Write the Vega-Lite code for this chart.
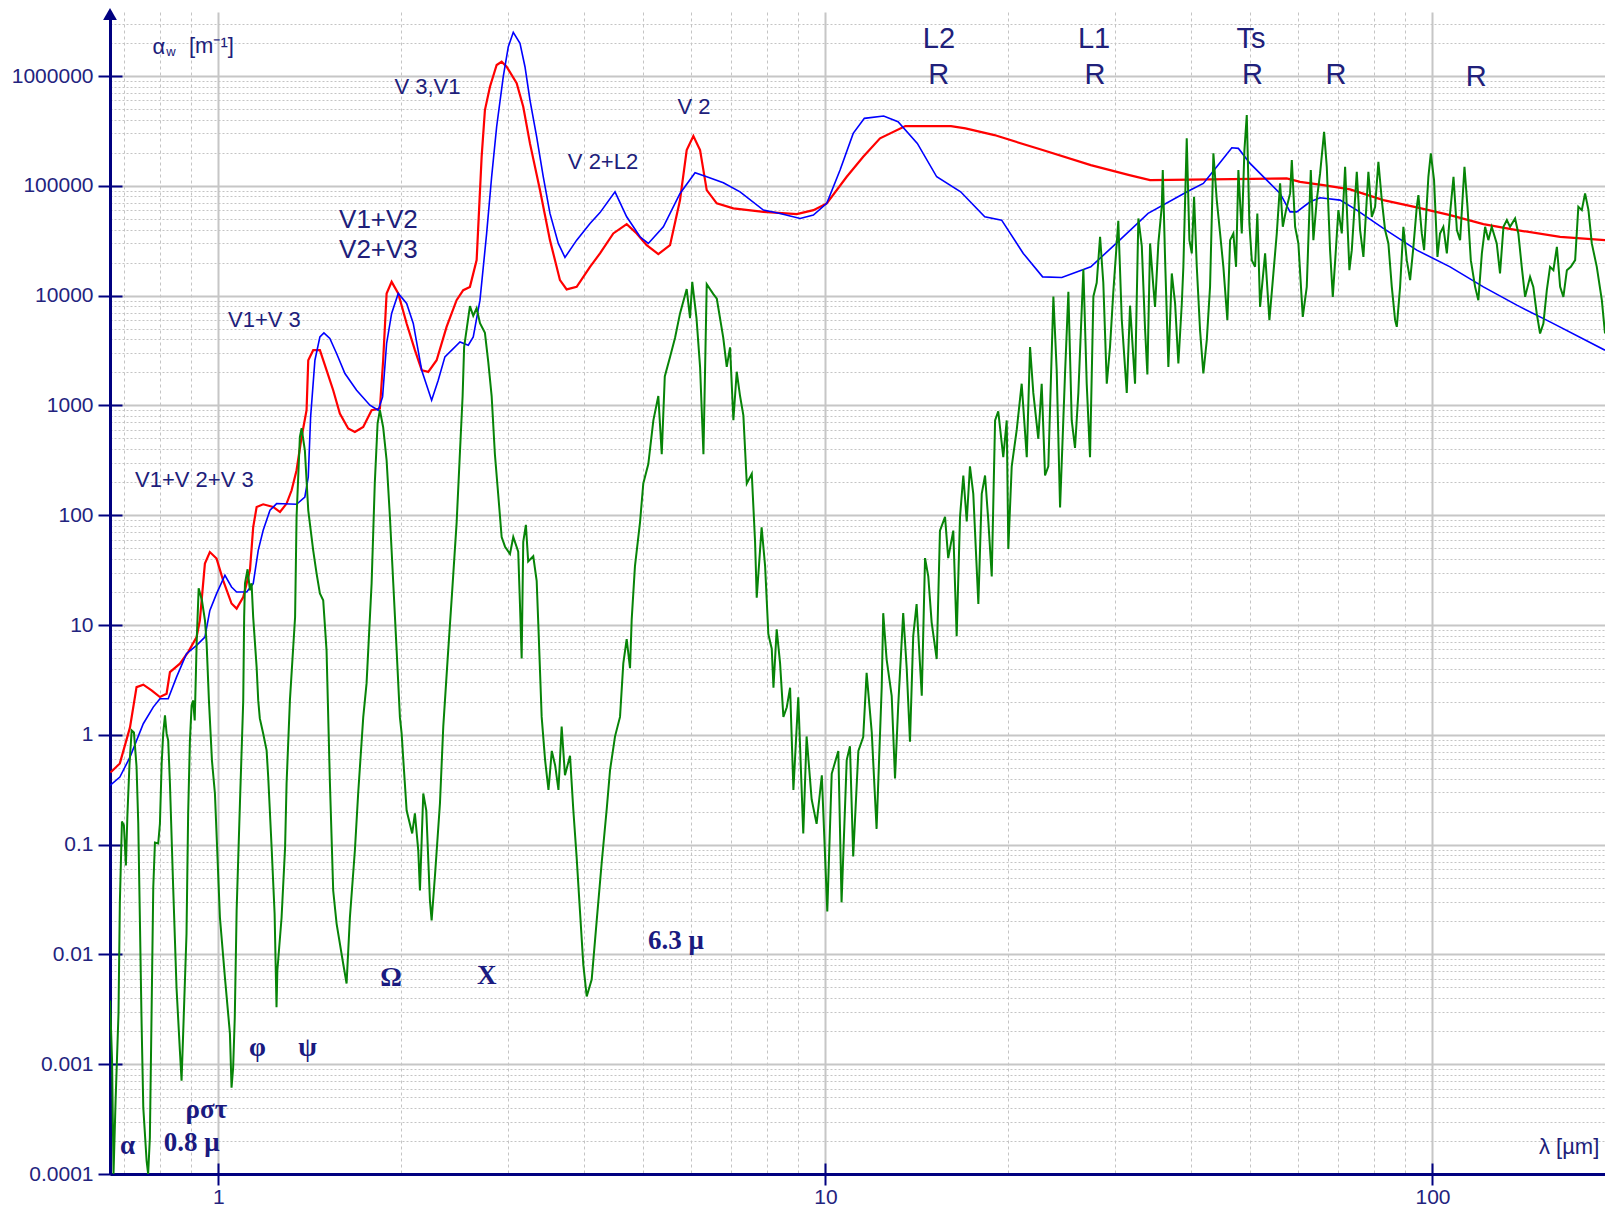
{
"$schema": "https://vega.github.io/schema/vega-lite/v6.json",
"width": 1495, "height": 1162,
"autosize": {"type": "none"},
"padding": {"left": 110, "top": 12, "right": 0, "bottom": 33},
"background": "white",
"config": {"view": {"stroke": null}, "font": "Liberation Sans"},
"datasets": {
"red": [{"lambda":0.664,"alpha":0.454},{"lambda":0.688,"alpha":0.549},{"lambda":0.715,"alpha":1.168},{"lambda":0.733,"alpha":2.72},{"lambda":0.752,"alpha":2.86},{"lambda":0.776,"alpha":2.54},{"lambda":0.801,"alpha":2.21},{"lambda":0.8215,"alpha":2.37},{"lambda":0.832,"alpha":3.73},{"lambda":0.864,"alpha":4.45},{"lambda":0.8915,"alpha":5.67},{"lambda":0.9206,"alpha":7.77},{"lambda":0.932,"alpha":11.03},{"lambda":0.95,"alpha":36.3},{"lambda":0.968,"alpha":46.2},{"lambda":0.993,"alpha":40.3},{"lambda":1.018,"alpha":25.5},{"lambda":1.051,"alpha":15.7},{"lambda":1.0715,"alpha":14.1},{"lambda":1.0987,"alpha":18.0},{"lambda":1.127,"alpha":31.5},{"lambda":1.141,"alpha":78.1},{"lambda":1.156,"alpha":118.9},{"lambda":1.185,"alpha":125.8},{"lambda":1.231,"alpha":118.9},{"lambda":1.263,"alpha":107},{"lambda":1.295,"alpha":127.7},{"lambda":1.32,"alpha":168.8},{"lambda":1.345,"alpha":256.8},{"lambda":1.371,"alpha":516},{"lambda":1.397,"alpha":904},{"lambda":1.406,"alpha":2582},{"lambda":1.4326,"alpha":3186},{"lambda":1.4695,"alpha":3186},{"lambda":1.507,"alpha":2094},{"lambda":1.5455,"alpha":1376},{"lambda":1.585,"alpha":844},{"lambda":1.636,"alpha":616},{"lambda":1.678,"alpha":574},{"lambda":1.732,"alpha":637},{"lambda":1.788,"alpha":904},{"lambda":1.845,"alpha":937},{"lambda":1.868,"alpha":2582},{"lambda":1.8926,"alpha":10470},{"lambda":1.929,"alpha":13360},{"lambda":1.978,"alpha":10470},{"lambda":2.042,"alpha":5578},{"lambda":2.107,"alpha":3186},{"lambda":2.162,"alpha":2094},{"lambda":2.2165,"alpha":2021},{"lambda":2.288,"alpha":2582},{"lambda":2.376,"alpha":5195},{"lambda":2.468,"alpha":9094},{"lambda":2.531,"alpha":11220},{"lambda":2.596,"alpha":12020},{"lambda":2.663,"alpha":21060},{"lambda":2.714,"alpha":184000},{"lambda":2.748,"alpha":490000},{"lambda":2.801,"alpha":799000},{"lambda":2.873,"alpha":1260000},{"lambda":2.928,"alpha":1351000},{"lambda":2.984,"alpha":1216000},{"lambda":3.0996,"alpha":859000},{"lambda":3.178,"alpha":525000},{"lambda":3.26,"alpha":243700},{"lambda":3.386,"alpha":91500},{"lambda":3.517,"alpha":32030},{"lambda":3.653,"alpha":13840},{"lambda":3.747,"alpha":11390},{"lambda":3.892,"alpha":12020},{"lambda":4.094,"alpha":18300},{"lambda":4.252,"alpha":24240},{"lambda":4.472,"alpha":36870},{"lambda":4.705,"alpha":44820},{"lambda":4.887,"alpha":36870},{"lambda":5.076,"alpha":28850},{"lambda":5.305,"alpha":23880},{"lambda":5.546,"alpha":28850},{"lambda":5.76,"alpha":74170},{"lambda":5.908,"alpha":211800},{"lambda":6.059,"alpha":284100},{"lambda":6.215,"alpha":211800},{"lambda":6.374,"alpha":91500},{"lambda":6.621,"alpha":69220},{"lambda":7.052,"alpha":62300},{"lambda":7.902,"alpha":58000},{"lambda":8.969,"alpha":55270},{"lambda":9.553,"alpha":60120},{"lambda":10.05,"alpha":69220},{"lambda":10.84,"alpha":120900},{"lambda":11.54,"alpha":184000},{"lambda":12.3,"alpha":270700},{"lambda":13.54,"alpha":350400},{"lambda":16.1,"alpha":350400},{"lambda":17.01,"alpha":333800},{"lambda":18.98,"alpha":290100},{"lambda":22.79,"alpha":211800},{"lambda":27.36,"alpha":154500},{"lambda":31.67,"alpha":125300},{"lambda":34.26,"alpha":112800},{"lambda":57.54,"alpha":116900},{"lambda":60.52,"alpha":108800},{"lambda":66.11,"alpha":101600},{"lambda":73.16,"alpha":92820},{"lambda":83.01,"alpha":74170},{"lambda":94.22,"alpha":63620},{"lambda":106.9,"alpha":54130},{"lambda":121.3,"alpha":44820},{"lambda":137.7,"alpha":39530},{"lambda":162.3,"alpha":34340},{"lambda":192.4,"alpha":32030}],
"blue": [{"lambda":0.663,"alpha":0.346},{"lambda":0.688,"alpha":0.412},{"lambda":0.715,"alpha":0.626},{"lambda":0.752,"alpha":1.262},{"lambda":0.781,"alpha":1.788},{"lambda":0.801,"alpha":2.133},{"lambda":0.8265,"alpha":2.133},{"lambda":0.853,"alpha":3.356},{"lambda":0.886,"alpha":5.484},{"lambda":0.9206,"alpha":6.53},{"lambda":0.95,"alpha":7.77},{"lambda":0.968,"alpha":13.6},{"lambda":0.993,"alpha":19.3},{"lambda":1.025,"alpha":28.4},{"lambda":1.051,"alpha":22.2},{"lambda":1.0715,"alpha":20.0},{"lambda":1.113,"alpha":20.0},{"lambda":1.141,"alpha":23.8},{"lambda":1.163,"alpha":47.9},{"lambda":1.185,"alpha":72.9},{"lambda":1.216,"alpha":110.9},{"lambda":1.247,"alpha":127.7},{"lambda":1.345,"alpha":125.8},{"lambda":1.388,"alpha":146.6},{"lambda":1.406,"alpha":223.1},{"lambda":1.4186,"alpha":785.6},{"lambda":1.442,"alpha":2582},{"lambda":1.4695,"alpha":4211},{"lambda":1.492,"alpha":4579},{"lambda":1.526,"alpha":4072},{"lambda":1.5655,"alpha":2972},{"lambda":1.616,"alpha":1953},{"lambda":1.689,"alpha":1376},{"lambda":1.7765,"alpha":1004},{"lambda":1.833,"alpha":904},{"lambda":1.864,"alpha":1196},{"lambda":1.8926,"alpha":3667},{"lambda":1.929,"alpha":6882},{"lambda":1.978,"alpha":10470},{"lambda":2.042,"alpha":8487},{"lambda":2.094,"alpha":5578},{"lambda":2.162,"alpha":2094},{"lambda":2.245,"alpha":1116},{"lambda":2.302,"alpha":1697},{"lambda":2.361,"alpha":2768},{"lambda":2.5,"alpha":3792},{"lambda":2.58,"alpha":3538},{"lambda":2.629,"alpha":4211},{"lambda":2.697,"alpha":9094},{"lambda":2.766,"alpha":36870},{"lambda":2.819,"alpha":120900},{"lambda":2.873,"alpha":345300},{"lambda":2.946,"alpha":985800},{"lambda":3.003,"alpha":1851000},{"lambda":3.06,"alpha":2503000},{"lambda":3.139,"alpha":1988000},{"lambda":3.199,"alpha":1216000},{"lambda":3.26,"alpha":604500},{"lambda":3.344,"alpha":279900},{"lambda":3.429,"alpha":120900},{"lambda":3.517,"alpha":56090},{"lambda":3.63,"alpha":29890},{"lambda":3.723,"alpha":22280},{"lambda":3.892,"alpha":32030},{"lambda":4.094,"alpha":45490},{"lambda":4.252,"alpha":57050},{"lambda":4.501,"alpha":88270},{"lambda":4.705,"alpha":52240},{"lambda":4.949,"alpha":34340},{"lambda":5.107,"alpha":29890},{"lambda":5.407,"alpha":42360},{"lambda":5.76,"alpha":85350},{"lambda":6.098,"alpha":131500},{"lambda":6.374,"alpha":120900},{"lambda":6.789,"alpha":106600},{"lambda":7.233,"alpha":88270},{"lambda":7.902,"alpha":60120},{"lambda":8.419,"alpha":56090},{"lambda":9.083,"alpha":50510},{"lambda":9.553,"alpha":54130},{"lambda":10.05,"alpha":69220},{"lambda":10.57,"alpha":139200},{"lambda":11.11,"alpha":300600},{"lambda":11.59,"alpha":411700},{"lambda":12.47,"alpha":432100},{"lambda":13.17,"alpha":383400},{"lambda":14.17,"alpha":243700},{"lambda":15.25,"alpha":120900},{"lambda":16.7,"alpha":88270},{"lambda":18.3,"alpha":52240},{"lambda":19.51,"alpha":48740},{"lambda":21.18,"alpha":24240},{"lambda":22.79,"alpha":14830},{"lambda":24.51,"alpha":14640},{"lambda":27.36,"alpha":18300},{"lambda":30.53,"alpha":32030},{"lambda":34.0,"alpha":56090},{"lambda":39.42,"alpha":88270},{"lambda":41.93,"alpha":105300},{"lambda":44.12,"alpha":149100},{"lambda":46.71,"alpha":222200},{"lambda":47.89,"alpha":219400},{"lambda":50.06,"alpha":160200},{"lambda":53.33,"alpha":112800},{"lambda":56.1,"alpha":85350},{"lambda":58.27,"alpha":58000},{"lambda":59.76,"alpha":58000},{"lambda":62.86,"alpha":71550},{"lambda":65.29,"alpha":77800},{"lambda":70.44,"alpha":74170},{"lambda":75.04,"alpha":60120},{"lambda":83.01,"alpha":40950},{"lambda":94.22,"alpha":25970},{"lambda":106.9,"alpha":18300},{"lambda":121.3,"alpha":12020},{"lambda":137.7,"alpha":8190},{"lambda":156.2,"alpha":5768},{"lambda":192.4,"alpha":3186}],
"green": [{"lambda":0.663,"alpha":0.0038},{"lambda":0.668,"alpha":0.00108},{"lambda":0.6717,"alpha":0.0001},{"lambda":0.677,"alpha":0.000466},{"lambda":0.6845,"alpha":0.00289},{"lambda":0.688,"alpha":0.0291},{"lambda":0.6935,"alpha":0.1625},{"lambda":0.6987,"alpha":0.1494},{"lambda":0.704,"alpha":0.0645},{"lambda":0.708,"alpha":0.1843},{"lambda":0.7135,"alpha":0.526},{"lambda":0.7196,"alpha":1.097},{"lambda":0.7258,"alpha":1.052},{"lambda":0.733,"alpha":0.515},{"lambda":0.7378,"alpha":0.1558},{"lambda":0.7424,"alpha":0.02035},{"lambda":0.7472,"alpha":0.002344},{"lambda":0.752,"alpha":0.000402},{"lambda":0.7615,"alpha":0.000132},{"lambda":0.766,"alpha":0.0001},{"lambda":0.771,"alpha":0.000214},{"lambda":0.776,"alpha":0.00289},{"lambda":0.781,"alpha":0.0407},{"lambda":0.786,"alpha":0.1046},{"lambda":0.7958,"alpha":0.1024},{"lambda":0.801,"alpha":0.1558},{"lambda":0.8063,"alpha":0.549},{"lambda":0.811,"alpha":1.03},{"lambda":0.8165,"alpha":1.503},{"lambda":0.8215,"alpha":1.03},{"lambda":0.8265,"alpha":0.889},{"lambda":0.832,"alpha":0.3607},{"lambda":0.8423,"alpha":0.0407},{"lambda":0.853,"alpha":0.00499},{"lambda":0.864,"alpha":0.00133},{"lambda":0.8695,"alpha":0.000709},{"lambda":0.8748,"alpha":0.0019},{"lambda":0.886,"alpha":0.0155},{"lambda":0.8915,"alpha":0.1922},{"lambda":0.8975,"alpha":0.889},{"lambda":0.9033,"alpha":1.853},{"lambda":0.9083,"alpha":2.058},{"lambda":0.914,"alpha":1.353},{"lambda":0.921,"alpha":7.25},{"lambda":0.9278,"alpha":21.6},{"lambda":0.9393,"alpha":16.8},{"lambda":0.9502,"alpha":11.03},{"lambda":0.9562,"alpha":6.81},{"lambda":0.9646,"alpha":2.058},{"lambda":0.9757,"alpha":0.584},{"lambda":0.9868,"alpha":0.2924},{"lambda":1.0057,"alpha":0.02167},{"lambda":1.025,"alpha":0.00615},{"lambda":1.0446,"alpha":0.0019},{"lambda":1.051,"alpha":0.000612},{"lambda":1.0574,"alpha":0.000931},{"lambda":1.064,"alpha":0.00266},{"lambda":1.0715,"alpha":0.0251},{"lambda":1.085,"alpha":0.237},{"lambda":1.0987,"alpha":2.058},{"lambda":1.1025,"alpha":11.75},{"lambda":1.106,"alpha":24.0},{"lambda":1.117,"alpha":32.2},{"lambda":1.127,"alpha":20.7},{"lambda":1.134,"alpha":24.0},{"lambda":1.141,"alpha":11.75},{"lambda":1.156,"alpha":4.11},{"lambda":1.163,"alpha":2.058},{"lambda":1.17,"alpha":1.411},{"lambda":1.185,"alpha":1.03},{"lambda":1.2005,"alpha":0.7211},{"lambda":1.208,"alpha":0.409},{"lambda":1.2236,"alpha":0.0942},{"lambda":1.2375,"alpha":0.02357},{"lambda":1.2465,"alpha":0.0033},{"lambda":1.2505,"alpha":0.00713},{"lambda":1.2707,"alpha":0.02167},{"lambda":1.2877,"alpha":0.0942},{"lambda":1.295,"alpha":0.3607},{"lambda":1.3115,"alpha":2.058},{"lambda":1.3375,"alpha":11.82},{"lambda":1.345,"alpha":96.4},{"lambda":1.362,"alpha":516},{"lambda":1.371,"alpha":620},{"lambda":1.388,"alpha":390.7},{"lambda":1.406,"alpha":110.9},{"lambda":1.4326,"alpha":47.9},{"lambda":1.451,"alpha":29.6},{"lambda":1.4695,"alpha":19.4},{"lambda":1.488,"alpha":16.8},{"lambda":1.507,"alpha":5.88},{"lambda":1.526,"alpha":0.3842},{"lambda":1.5455,"alpha":0.0382},{"lambda":1.5655,"alpha":0.0191},{"lambda":1.605,"alpha":0.00826},{"lambda":1.626,"alpha":0.00543},{"lambda":1.6466,"alpha":0.02167},{"lambda":1.678,"alpha":0.0884},{"lambda":1.699,"alpha":0.2924},{"lambda":1.732,"alpha":1.441},{"lambda":1.754,"alpha":2.94},{"lambda":1.788,"alpha":24.0},{"lambda":1.8096,"alpha":195.5},{"lambda":1.829,"alpha":688},{"lambda":1.845,"alpha":904},{"lambda":1.868,"alpha":633},{"lambda":1.8926,"alpha":316.8},{"lambda":1.9166,"alpha":95.8},{"lambda":1.941,"alpha":24.0},{"lambda":1.966,"alpha":5.88},{"lambda":1.9907,"alpha":1.441},{"lambda":2.0035,"alpha":1.03},{"lambda":2.0167,"alpha":0.584},{"lambda":2.042,"alpha":0.2046},{"lambda":2.0856,"alpha":0.1263},{"lambda":2.107,"alpha":0.1922},{"lambda":2.134,"alpha":0.0884},{"lambda":2.1477,"alpha":0.0382},{"lambda":2.175,"alpha":0.2924},{"lambda":2.2,"alpha":0.2046},{"lambda":2.2306,"alpha":0.03097},{"lambda":2.245,"alpha":0.0204},{"lambda":2.275,"alpha":0.0546},{"lambda":2.317,"alpha":0.237},{"lambda":2.3465,"alpha":1.193},{"lambda":2.386,"alpha":4.97},{"lambda":2.4275,"alpha":20.7},{"lambda":2.4685,"alpha":86.2},{"lambda":2.4965,"alpha":323.5},{"lambda":2.525,"alpha":1213},{"lambda":2.5395,"alpha":3393},{"lambda":2.596,"alpha":8019},{"lambda":2.629,"alpha":6556},{"lambda":2.663,"alpha":7690},{"lambda":2.697,"alpha":5614},{"lambda":2.748,"alpha":4588},{"lambda":2.7833,"alpha":2486},{"lambda":2.819,"alpha":1218},{"lambda":2.854,"alpha":359},{"lambda":2.889,"alpha":158.5},{"lambda":2.928,"alpha":63.4},{"lambda":2.966,"alpha":51.7},{"lambda":3.022,"alpha":44.4},{"lambda":3.06,"alpha":63.4},{"lambda":3.118,"alpha":46.6},{"lambda":3.139,"alpha":15.2},{"lambda":3.159,"alpha":4.97},{"lambda":3.178,"alpha":57.3},{"lambda":3.21,"alpha":81.8},{"lambda":3.238,"alpha":38.0},{"lambda":3.301,"alpha":42.3},{"lambda":3.344,"alpha":25.3},{"lambda":3.365,"alpha":10.14},{"lambda":3.408,"alpha":1.456},{"lambda":3.453,"alpha":0.584},{"lambda":3.497,"alpha":0.3154},{"lambda":3.5415,"alpha":0.7134},{"lambda":3.587,"alpha":0.526},{"lambda":3.632,"alpha":0.3154},{"lambda":3.6765,"alpha":1.188},{"lambda":3.723,"alpha":0.4284},{"lambda":3.795,"alpha":0.645},{"lambda":3.842,"alpha":0.2099},{"lambda":3.892,"alpha":0.0757},{"lambda":3.941,"alpha":0.0247},{"lambda":3.9915,"alpha":0.00803},{"lambda":4.043,"alpha":0.00414},{"lambda":4.12,"alpha":0.00591},{"lambda":4.1985,"alpha":0.0201},{"lambda":4.2795,"alpha":0.0684},{"lambda":4.3615,"alpha":0.2099},{"lambda":4.4166,"alpha":0.4748},{"lambda":4.5015,"alpha":0.969},{"lambda":4.5874,"alpha":1.456},{"lambda":4.645,"alpha":4.474},{"lambda":4.705,"alpha":7.45},{"lambda":4.765,"alpha":4.04},{"lambda":4.795,"alpha":11.2},{"lambda":4.855,"alpha":34.4},{"lambda":4.949,"alpha":86.1},{"lambda":5.011,"alpha":194.6},{"lambda":5.107,"alpha":292.5},{"lambda":5.206,"alpha":731.6},{"lambda":5.305,"alpha":1218},{"lambda":5.374,"alpha":359},{"lambda":5.4365,"alpha":1834},{"lambda":5.546,"alpha":2756},{"lambda":5.6525,"alpha":4141},{"lambda":5.76,"alpha":6896},{"lambda":5.908,"alpha":11480},{"lambda":5.983,"alpha":6234},{"lambda":6.0335,"alpha":13380},{"lambda":6.1315,"alpha":6234},{"lambda":6.215,"alpha":2248},{"lambda":6.295,"alpha":359},{"lambda":6.374,"alpha":12730},{"lambda":6.5325,"alpha":10380},{"lambda":6.6225,"alpha":9367},{"lambda":6.786,"alpha":4141},{"lambda":6.877,"alpha":2248},{"lambda":6.964,"alpha":3379},{"lambda":7.052,"alpha":733},{"lambda":7.142,"alpha":2029},{"lambda":7.233,"alpha":1218},{"lambda":7.3245,"alpha":811},{"lambda":7.42,"alpha":194.6},{"lambda":7.562,"alpha":238.6},{"lambda":7.657,"alpha":57.3},{"lambda":7.705,"alpha":17.7},{"lambda":7.85,"alpha":77.6},{"lambda":7.954,"alpha":34.4},{"lambda":8.053,"alpha":8.24},{"lambda":8.157,"alpha":6.08},{"lambda":8.21,"alpha":2.687},{"lambda":8.3115,"alpha":9.13},{"lambda":8.419,"alpha":4.474},{"lambda":8.525,"alpha":1.456},{"lambda":8.636,"alpha":1.784},{"lambda":8.7445,"alpha":2.687},{"lambda":8.855,"alpha":0.3154},{"lambda":9.02,"alpha":2.192},{"lambda":9.193,"alpha":0.1263},{"lambda":9.31,"alpha":0.967},{"lambda":9.49,"alpha":0.2578},{"lambda":9.67,"alpha":0.1545},{"lambda":9.863,"alpha":0.4284},{"lambda":10.07,"alpha":0.0246},{"lambda":10.24,"alpha":0.4412},{"lambda":10.5,"alpha":0.7134},{"lambda":10.63,"alpha":0.0298},{"lambda":10.84,"alpha":0.589},{"lambda":10.974,"alpha":0.7855},{"lambda":11.11,"alpha":0.078},{"lambda":11.33,"alpha":0.7134},{"lambda":11.54,"alpha":0.953},{"lambda":11.69,"alpha":3.665},{"lambda":11.92,"alpha":1.052},{"lambda":12.14,"alpha":0.139},{"lambda":12.38,"alpha":2.75},{"lambda":12.45,"alpha":12.83},{"lambda":12.61,"alpha":4.897},{"lambda":12.856,"alpha":2.267},{"lambda":13.02,"alpha":0.4006},{"lambda":13.18,"alpha":1.869},{"lambda":13.43,"alpha":12.83},{"lambda":13.61,"alpha":4.04},{"lambda":13.78,"alpha":0.865},{"lambda":13.95,"alpha":7.915},{"lambda":14.13,"alpha":15.53},{"lambda":14.41,"alpha":2.267},{"lambda":14.59,"alpha":40.68},{"lambda":14.77,"alpha":27.71},{"lambda":14.96,"alpha":10.58},{"lambda":15.25,"alpha":4.897},{"lambda":15.44,"alpha":72.44},{"lambda":15.74,"alpha":96.8},{"lambda":15.93,"alpha":40.68},{"lambda":16.24,"alpha":72.44},{"lambda":16.45,"alpha":7.915},{"lambda":16.66,"alpha":96.8},{"lambda":16.87,"alpha":230.2},{"lambda":17.09,"alpha":87.9},{"lambda":17.3,"alpha":279.3},{"lambda":17.52,"alpha":156.5},{"lambda":17.86,"alpha":15.53},{"lambda":18.09,"alpha":156.5},{"lambda":18.32,"alpha":230.2},{"lambda":18.55,"alpha":87.9},{"lambda":18.79,"alpha":27.71},{"lambda":19.03,"alpha":730},{"lambda":19.26,"alpha":885},{"lambda":19.63,"alpha":338},{"lambda":19.89,"alpha":730},{"lambda":20.01,"alpha":49.35},{"lambda":20.27,"alpha":279.3},{"lambda":20.66,"alpha":602},{"lambda":21.05,"alpha":1577},{"lambda":21.46,"alpha":338},{"lambda":21.73,"alpha":3407},{"lambda":22.0,"alpha":1300},{"lambda":22.42,"alpha":497},{"lambda":22.71,"alpha":1577},{"lambda":23.0,"alpha":230.2},{"lambda":23.29,"alpha":279.3},{"lambda":23.74,"alpha":9828},{"lambda":24.04,"alpha":2107},{"lambda":24.35,"alpha":117.4},{"lambda":24.81,"alpha":1912},{"lambda":25.13,"alpha":10820},{"lambda":25.45,"alpha":730},{"lambda":25.77,"alpha":410},{"lambda":26.1,"alpha":1300},{"lambda":26.6,"alpha":17510},{"lambda":26.94,"alpha":1577},{"lambda":27.28,"alpha":338},{"lambda":27.63,"alpha":9828},{"lambda":27.98,"alpha":13110},{"lambda":28.34,"alpha":34340},{"lambda":28.69,"alpha":13110},{"lambda":29.07,"alpha":1577},{"lambda":29.43,"alpha":3407},{"lambda":29.8,"alpha":10820},{"lambda":30.37,"alpha":48130},{"lambda":30.77,"alpha":6067},{"lambda":31.36,"alpha":1300},{"lambda":31.75,"alpha":8104},{"lambda":32.36,"alpha":1577},{"lambda":32.77,"alpha":50510},{"lambda":33.2,"alpha":28300},{"lambda":33.61,"alpha":5012},{"lambda":33.91,"alpha":1912},{"lambda":34.26,"alpha":29890},{"lambda":34.69,"alpha":12020},{"lambda":34.91,"alpha":7902},{"lambda":35.35,"alpha":29890},{"lambda":35.81,"alpha":64440},{"lambda":35.95,"alpha":139200},{"lambda":36.27,"alpha":21060},{"lambda":36.72,"alpha":2244},{"lambda":37.2,"alpha":15930},{"lambda":37.67,"alpha":8487},{"lambda":38.14,"alpha":2410},{"lambda":38.64,"alpha":8487},{"lambda":38.87,"alpha":18300},{"lambda":39.37,"alpha":270700},{"lambda":39.77,"alpha":32030},{"lambda":40.13,"alpha":24240},{"lambda":40.48,"alpha":79480},{"lambda":40.9,"alpha":18300},{"lambda":41.41,"alpha":4846},{"lambda":41.93,"alpha":1953},{"lambda":42.48,"alpha":3929},{"lambda":43.01,"alpha":12020},{"lambda":43.56,"alpha":197600},{"lambda":44.12,"alpha":74170},{"lambda":44.68,"alpha":36870},{"lambda":45.24,"alpha":18300},{"lambda":45.93,"alpha":5976},{"lambda":46.41,"alpha":32030},{"lambda":46.99,"alpha":36870},{"lambda":47.47,"alpha":18300},{"lambda":47.89,"alpha":139200},{"lambda":48.51,"alpha":36870},{"lambda":49.0,"alpha":211800},{"lambda":49.44,"alpha":441300},{"lambda":49.93,"alpha":45490},{"lambda":50.39,"alpha":21060},{"lambda":51.02,"alpha":18300},{"lambda":51.46,"alpha":56090},{"lambda":52.0,"alpha":7902},{"lambda":53.0,"alpha":24240},{"lambda":53.87,"alpha":5976},{"lambda":54.69,"alpha":15930},{"lambda":55.4,"alpha":36870},{"lambda":56.1,"alpha":105300},{"lambda":56.68,"alpha":42360},{"lambda":57.38,"alpha":60120},{"lambda":58.27,"alpha":85350},{"lambda":58.65,"alpha":171700},{"lambda":59.39,"alpha":42360},{"lambda":60.13,"alpha":29890},{"lambda":61.14,"alpha":6407},{"lambda":62.07,"alpha":12020},{"lambda":63.03,"alpha":139200},{"lambda":63.65,"alpha":32030},{"lambda":64.47,"alpha":74170},{"lambda":65.29,"alpha":129900},{"lambda":66.29,"alpha":310800},{"lambda":66.97,"alpha":149100},{"lambda":67.81,"alpha":25970},{"lambda":68.51,"alpha":9747},{"lambda":69.2,"alpha":22560},{"lambda":69.98,"alpha":60120},{"lambda":70.89,"alpha":36870},{"lambda":71.79,"alpha":149100},{"lambda":72.97,"alpha":17070},{"lambda":73.63,"alpha":25970},{"lambda":75.04,"alpha":134300},{"lambda":75.99,"alpha":39530},{"lambda":76.95,"alpha":22560},{"lambda":78.42,"alpha":134300},{"lambda":79.44,"alpha":52240},{"lambda":80.44,"alpha":64440},{"lambda":81.45,"alpha":165700},{"lambda":82.51,"alpha":74170},{"lambda":83.55,"alpha":39530},{"lambda":84.6,"alpha":29890},{"lambda":85.7,"alpha":12020},{"lambda":86.78,"alpha":5976},{"lambda":87.34,"alpha":5195},{"lambda":88.44,"alpha":12020},{"lambda":89.55,"alpha":42360},{"lambda":90.71,"alpha":21060},{"lambda":91.86,"alpha":13840},{"lambda":93.02,"alpha":27830},{"lambda":94.22,"alpha":64440},{"lambda":94.8,"alpha":82370},{"lambda":96.03,"alpha":36870},{"lambda":96.87,"alpha":25970},{"lambda":98.46,"alpha":120900},{"lambda":99.37,"alpha":197600},{"lambda":100.6,"alpha":112800},{"lambda":101.9,"alpha":22560},{"lambda":102.9,"alpha":36870},{"lambda":104.2,"alpha":42360},{"lambda":105.6,"alpha":24240},{"lambda":106.9,"alpha":56090},{"lambda":108.3,"alpha":120900},{"lambda":109.7,"alpha":39530},{"lambda":111.05,"alpha":32030},{"lambda":112.9,"alpha":149100},{"lambda":114.2,"alpha":64440},{"lambda":115.65,"alpha":21060},{"lambda":117.55,"alpha":12020},{"lambda":119.0,"alpha":9094},{"lambda":120.6,"alpha":24240},{"lambda":122.1,"alpha":42360},{"lambda":123.6,"alpha":32030},{"lambda":125.2,"alpha":42360},{"lambda":127.6,"alpha":29890},{"lambda":129.2,"alpha":15930},{"lambda":130.9,"alpha":42360},{"lambda":132.6,"alpha":48740},{"lambda":134.2,"alpha":42360},{"lambda":136.8,"alpha":50510},{"lambda":138.5,"alpha":36870},{"lambda":140.3,"alpha":18300},{"lambda":142.1,"alpha":9747},{"lambda":144.8,"alpha":14830},{"lambda":146.6,"alpha":12020},{"lambda":148.5,"alpha":6882},{"lambda":150.4,"alpha":4521},{"lambda":152.3,"alpha":5578},{"lambda":154.3,"alpha":11220},{"lambda":156.2,"alpha":18300},{"lambda":158.2,"alpha":17070},{"lambda":160.3,"alpha":27830},{"lambda":162.3,"alpha":12020},{"lambda":164.3,"alpha":9747},{"lambda":166.5,"alpha":17070},{"lambda":169.0,"alpha":18300},{"lambda":171.8,"alpha":21060},{"lambda":173.9,"alpha":64440},{"lambda":176.2,"alpha":60120},{"lambda":178.4,"alpha":85350},{"lambda":180.7,"alpha":60120},{"lambda":183.0,"alpha":29890},{"lambda":186.5,"alpha":18300},{"lambda":190.1,"alpha":9094},{"lambda":192.4,"alpha":4521}],
"arrow": [{"lambda":0.6628,"alpha":3674000}],
"lab22": [{"text":"V 3,V1","lambda":2.21,"alpha":802500},{"text":"V 2","lambda":6.075,"alpha":527700},{"text":"V 2+L2","lambda":4.301,"alpha":164600},{"text":"V1+V 3","lambda":1.1905,"alpha":6040},{"text":"V1+V 2+V 3","lambda":0.9129,"alpha":210.4}],
"lab26": [{"text":"V1+V2","lambda":1.8348,"alpha":48740},{"text":"V2+V3","lambda":1.8348,"alpha":25970}],
"lab29": [{"text":"L2","lambda":15.38,"alpha":2198000},{"text":"R","lambda":15.36,"alpha":1032500},{"text":"L1","lambda":27.7,"alpha":2198000},{"text":"R","lambda":27.8,"alpha":1032500},{"text":"Ts","lambda":50.25,"alpha":2198000},{"text":"R","lambda":50.54,"alpha":1032500},{"text":"R","lambda":69.37,"alpha":1032500},{"text":"R","lambda":118.0,"alpha":979500}],
"lab20": [{"text":"α","lambda":0.7978,"alpha":1839000},{"text":"[m⁻¹]","lambda":0.9738,"alpha":1877000},{"text":"λ [µm]","lambda":167.9,"alpha":0.0001774}],
"lab13": [{"text":"w","lambda":0.835,"alpha":1655000}],
"serif": [{"text":"Ω","lambda":1.924,"alpha":0.00609},{"text":"X","lambda":2.766,"alpha":0.00632},{"text":"6.3 μ","lambda":5.673,"alpha":0.01337},{"text":"φ","lambda":1.1595,"alpha":0.001401},{"text":"ψ","lambda":1.4016,"alpha":0.001401},{"text":"ρστ","lambda":0.9554,"alpha":0.0003858},{"text":"0.8 μ","lambda":0.9033,"alpha":0.000191},{"text":"α","lambda":0.7082,"alpha":0.0001793}]
},
"resolve": {"axis": {"x": "independent", "y": "independent"}},
"layer": [
{"data": {"name": "red"},
 "mark": {"type": "line", "color": "#ff0000", "strokeWidth": 2.2, "clip": true},
 "encoding": {
  "x": {"field": "lambda", "type": "quantitative", "scale": {"type": "log", "domain": [0.6628, 192.4], "nice": false},
   "axis": {"orient": "bottom", "title": null, "values": [0.7,0.8,0.9,1,2,3,4,5,6,7,8,9,10,20,30,40,50,60,70,80,90,100],
    "format": "~g", "labelExpr": "abs(log(datum.value)/LN10 - round(log(datum.value)/LN10)) < 0.001 ? datum.label : ''",
    "labelFont": "Liberation Sans", "labelFontSize": 21, "labelColor": "#23237e", "labelPadding": 1, "labelOverlap": false, "labelFlush": false,
    "domainColor": "#000080", "domainWidth": 3, "tickColor": "#000080", "tickWidth": 2, "tickSize": 11,
    "tickOpacity": {"condition": {"test": "abs(log(datum.value)/LN10 - round(log(datum.value)/LN10)) < 0.001", "value": 1}, "value": 0},
    "grid": true,
    "gridColor": {"condition": {"test": "abs(log(datum.value)/LN10 - round(log(datum.value)/LN10)) < 0.001", "value": "#c6c6c6"}, "value": "#c4c4c4"},
    "gridWidth": {"condition": {"test": "abs(log(datum.value)/LN10 - round(log(datum.value)/LN10)) < 0.001", "value": 2}, "value": 1},
    "gridDash": {"condition": {"test": "abs(log(datum.value)/LN10 - round(log(datum.value)/LN10)) < 0.001", "value": []}, "value": [3, 3]}}},
  "y": {"field": "alpha", "type": "quantitative", "scale": {"type": "log", "domain": [0.0001, 3832000], "nice": false},
   "axis": {"orient": "left", "title": null,
    "values": [0.0001,0.0002,0.0003,0.0004,0.0005,0.0006,0.0007,0.0008,0.0009,0.001,0.002,0.003,0.004,0.005,0.006,0.007,0.008,0.009,0.01,0.02,0.03,0.04,0.05,0.06,0.07,0.08,0.09,0.1,0.2,0.3,0.4,0.5,0.6,0.7,0.8,0.9,1,2,3,4,5,6,7,8,9,10,20,30,40,50,60,70,80,90,100,200,300,400,500,600,700,800,900,1000,2000,3000,4000,5000,6000,7000,8000,9000,10000,20000,30000,40000,50000,60000,70000,80000,90000,100000,200000,300000,400000,500000,600000,700000,800000,900000,1000000,2000000,3000000],
    "format": "~f", "labelExpr": "abs(log(datum.value)/LN10 - round(log(datum.value)/LN10)) < 0.001 ? datum.label : ''",
    "labelFont": "Liberation Sans", "labelFontSize": 21, "labelColor": "#23237e", "labelPadding": 5, "labelOverlap": false, "labelFlush": false,
    "domainColor": "#000080", "domainWidth": 3, "tickColor": "#000080", "tickWidth": 2, "tickSize": 12,
    "tickOpacity": {"condition": {"test": "abs(log(datum.value)/LN10 - round(log(datum.value)/LN10)) < 0.001", "value": 1}, "value": 0},
    "grid": true,
    "gridColor": {"condition": {"test": "abs(log(datum.value)/LN10 - round(log(datum.value)/LN10)) < 0.001", "value": "#c6c6c6"}, "value": "#c4c4c4"},
    "gridWidth": {"condition": {"test": "abs(log(datum.value)/LN10 - round(log(datum.value)/LN10)) < 0.001", "value": 2}, "value": 1},
    "gridDash": {"condition": {"test": "abs(log(datum.value)/LN10 - round(log(datum.value)/LN10)) < 0.001", "value": []}, "value": [2, 2]}}}
 }},
{"data": {"name": "blue"},
 "mark": {"type": "line", "color": "#0000ff", "strokeWidth": 1.6, "clip": true},
 "encoding": {
  "x": {"field": "lambda", "type": "quantitative", "scale": {"type": "log", "domain": [0.6628, 192.4], "nice": false},
   "axis": {"orient": "bottom", "offset": -11, "title": null, "values": [1, 10, 100], "labels": false, "domain": false, "grid": false, "ticks": true, "tickSize": 11, "tickColor": "#000080", "tickWidth": 2}},
  "y": {"field": "alpha", "type": "quantitative", "scale": {"type": "log", "domain": [0.0001, 3832000], "nice": false},
   "axis": {"orient": "left", "offset": -12, "title": null, "values": [0.0001,0.001,0.01,0.1,1,10,100,1000,10000,100000,1000000], "labels": false, "domain": false, "grid": false, "ticks": true, "tickSize": 12, "tickColor": "#000080", "tickWidth": 2}}
 }},
{"data": {"name": "green"},
 "mark": {"type": "line", "color": "#078407", "strokeWidth": 2, "clip": true},
 "encoding": {
  "x": {"field": "lambda", "type": "quantitative", "scale": {"type": "log", "domain": [0.6628, 192.4], "nice": false}, "axis": null},
  "y": {"field": "alpha", "type": "quantitative", "scale": {"type": "log", "domain": [0.0001, 3832000], "nice": false}, "axis": null}
 }},
{"data": {"name": "arrow"},
 "mark": {"type": "point", "shape": "triangle-up", "filled": true, "color": "#000080", "size": 190, "opacity": 1},
 "encoding": {
  "x": {"field": "lambda", "type": "quantitative", "axis": null},
  "y": {"field": "alpha", "type": "quantitative", "axis": null}
 }},
{"data": {"name": "lab22"},
 "mark": {"type": "text", "font": "Liberation Sans", "fontSize": 22, "color": "#20207a", "align": "center", "baseline": "middle"},
 "encoding": {"x": {"field": "lambda", "type": "quantitative", "axis": null}, "y": {"field": "alpha", "type": "quantitative", "axis": null}, "text": {"field": "text"}}},
{"data": {"name": "lab26"},
 "mark": {"type": "text", "font": "Liberation Sans", "fontSize": 26, "color": "#20207a", "align": "center", "baseline": "middle"},
 "encoding": {"x": {"field": "lambda", "type": "quantitative", "axis": null}, "y": {"field": "alpha", "type": "quantitative", "axis": null}, "text": {"field": "text"}}},
{"data": {"name": "lab29"},
 "mark": {"type": "text", "font": "Liberation Sans", "fontSize": 29, "color": "#20207a", "align": "center", "baseline": "middle"},
 "encoding": {"x": {"field": "lambda", "type": "quantitative", "axis": null}, "y": {"field": "alpha", "type": "quantitative", "axis": null}, "text": {"field": "text"}}},
{"data": {"name": "lab20"},
 "mark": {"type": "text", "font": "Liberation Sans", "fontSize": 22, "color": "#20207a", "align": "center", "baseline": "middle"},
 "encoding": {"x": {"field": "lambda", "type": "quantitative", "axis": null}, "y": {"field": "alpha", "type": "quantitative", "axis": null}, "text": {"field": "text"}}},
{"data": {"name": "lab13"},
 "mark": {"type": "text", "font": "Liberation Sans", "fontSize": 13, "color": "#20207a", "align": "center", "baseline": "middle"},
 "encoding": {"x": {"field": "lambda", "type": "quantitative", "axis": null}, "y": {"field": "alpha", "type": "quantitative", "axis": null}, "text": {"field": "text"}}},
{"data": {"name": "serif"},
 "mark": {"type": "text", "font": "Liberation Serif", "fontWeight": "bold", "fontSize": 27, "color": "#1a1a80", "align": "center", "baseline": "middle"},
 "encoding": {"x": {"field": "lambda", "type": "quantitative", "axis": null}, "y": {"field": "alpha", "type": "quantitative", "axis": null}, "text": {"field": "text"}}}
]
}
